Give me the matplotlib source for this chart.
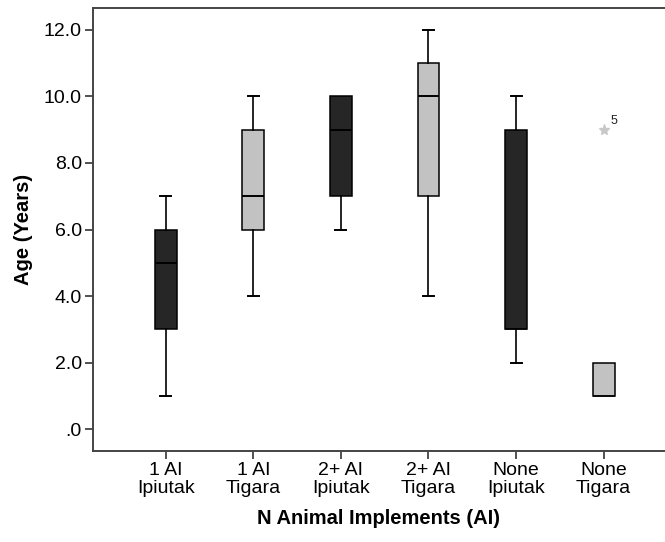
import matplotlib.pyplot as plt
import numpy as np

plt.rcParams['font.family'] = ['Liberation Sans', 'DejaVu Sans']

# data
groups = ['1 AI\nIpiutak', '1 AI\nTigara', '2+ AI\nIpiutak', '2+ AI\nTigara',
          'None\nIpiutak', 'None\nTigara']
whislo = [1, 4, 6, 4, 2, 1]
q1 = [3, 6, 7, 7, 3, 1]
med = [5, 7, 9, 10, 3, 1]
q3 = [6, 9, 10, 11, 9, 2]
whishi = [7, 10, 10, 12, 10, 2]
fliers = [[], [], [], [], [], [9]]
flier_ids = [[], [], [], [], [], ['5']]
site = ['Ipiutak', 'Tigara', 'Ipiutak', 'Tigara', 'Ipiutak', 'Tigara']
yticks = [0, 2, 4, 6, 8, 10, 12]

dark = '#262626'
light = '#c2c2c2'

stats = []
for i in range(len(groups)):
    stats.append(dict(whislo=whislo[i], q1=q1[i], med=med[i], q3=q3[i],
                      whishi=whishi[i], fliers=[]))

fig = plt.figure(figsize=(6.65, 5.42), dpi=100)
ax = fig.add_axes([0.1398, 0.1679, 0.8602, 0.8173])

pos = np.arange(1, len(groups) + 1)
bp = ax.bxp(stats, positions=pos, widths=0.25, patch_artist=True,
            showfliers=False,
            boxprops=dict(edgecolor='black', linewidth=1.1),
            medianprops=dict(color='black', linewidth=1.4),
            whiskerprops=dict(color='black', linewidth=1.2),
            capprops=dict(color='black', linewidth=1.4), capwidths=0.125)
for b, s in zip(bp['boxes'], site):
    b.set_facecolor(dark if s == 'Ipiutak' else light)
# no whiskers when they fall on the box edges
for i in range(len(groups)):
    if whislo[i] == q1[i]:
        bp['caps'][2 * i].set_visible(False)
    if whishi[i] == q3[i]:
        bp['caps'][2 * i + 1].set_visible(False)
    if med[i] == q1[i] or med[i] == q3[i]:
        bp['medians'][i].set_linewidth(1.1)

for i in range(len(groups)):
    for v, lab in zip(fliers[i], flier_ids[i]):
        ax.plot(pos[i], v, marker='*', color='#c8c8c8', markersize=8,
                linestyle='none')
        ax.annotate(lab, (pos[i], v), xytext=(5, 4), textcoords='offset points',
                    fontsize=9, color='#222222')

ax.set_xlim(0.17, 6.70)
ax.set_ylim(-0.66, 12.66)
ax.set_xticks(pos)
ax.set_xticklabels(groups, fontsize=14, linespacing=1.05)
ax.set_yticks(yticks)
ax.set_yticklabels(['.0' if t == 0 else '%.1f' % t for t in yticks], fontsize=14)
ax.tick_params(direction='out', length=6, width=1.2, color='#333333', pad=2)

for sp in ['left', 'bottom', 'top']:
    ax.spines[sp].set_color('#444444')
    ax.spines[sp].set_linewidth(1.4)
ax.spines['right'].set_visible(False)

ax.set_ylabel('Age (Years)', fontsize=14.5, fontweight='bold', labelpad=8)
ax.set_xlabel('N Animal Implements (AI)', fontsize=14.5, fontweight='bold',
              labelpad=9)

fig.savefig('out.png', dpi=100)
